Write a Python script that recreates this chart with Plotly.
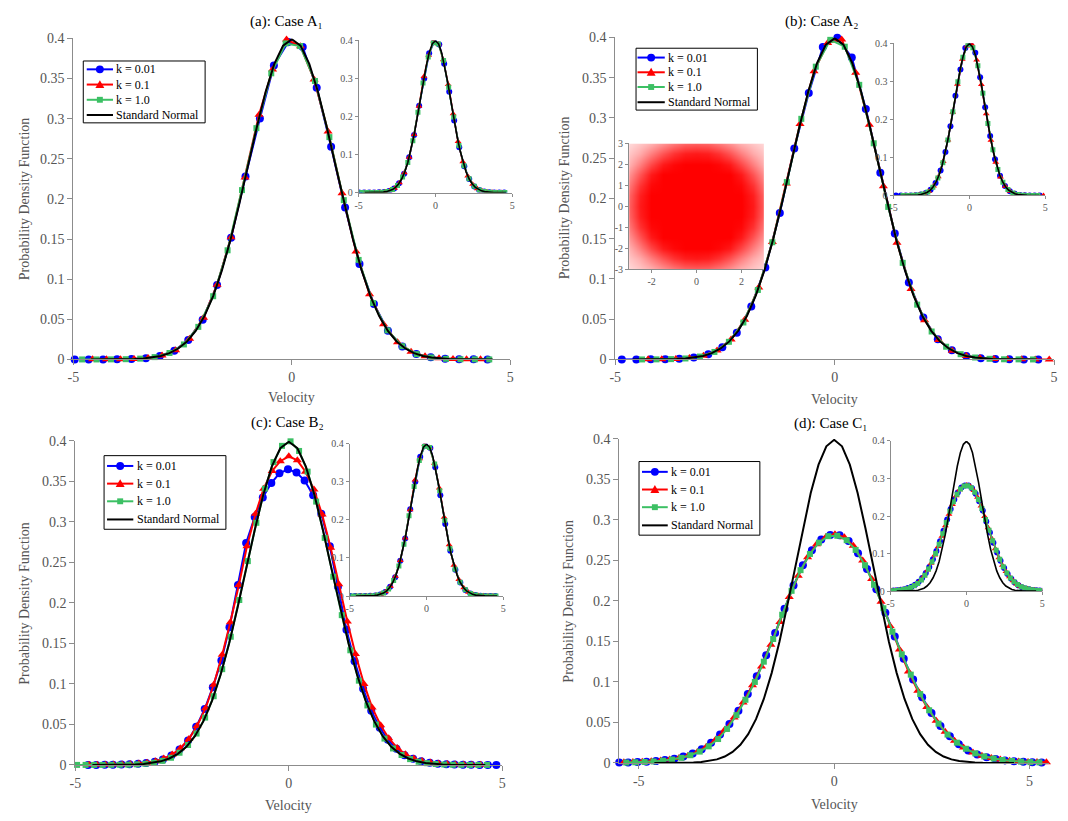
import plotly.graph_objects as go

W, H = 1068, 821

# ---------------- data ----------------
# Panel (a): Case A1
XA_K001 = [-4.97,-4.65,-4.32,-4.00,-3.67,-3.34,-3.02,-2.69,-2.37,-2.04,-1.71,-1.39,-1.06,-0.73,-0.41,-0.08,0.25,0.57,0.90,1.22,1.55,1.88,2.20,2.53,2.85,3.18,3.51,3.83,4.16,4.48]
YA_K001 = [0.0000,0.0000,0.0000,0.0001,0.0005,0.0015,0.0043,0.0108,0.0243,0.0496,0.0928,0.1515,0.2281,0.3001,0.3662,0.3956,0.3892,0.3384,0.2651,0.1892,0.1188,0.0690,0.0358,0.0160,0.0068,0.0026,0.0009,0.0003,0.0001,0.0000]
XA_K01 = [-4.56,-4.24,-3.92,-3.61,-3.29,-2.97,-2.66,-2.34,-2.02,-1.71,-1.39,-1.07,-0.75,-0.44,-0.12,0.20,0.51,0.83,1.15,1.47,1.78,2.10,2.42,2.73,3.05,3.37,3.69,4.00,4.32]
YA_K01 = [0.0002,0.0002,0.0003,0.0007,0.0019,0.0049,0.0115,0.0259,0.0521,0.0931,0.1524,0.2268,0.3048,0.3612,0.3985,0.3902,0.3489,0.2840,0.2071,0.1345,0.0812,0.0438,0.0215,0.0097,0.0040,0.0016,0.0006,0.0003,0.0002]
XA_K1 = [-4.80,-4.47,-4.14,-3.80,-3.47,-3.14,-2.80,-2.47,-2.14,-1.80,-1.47,-1.14,-0.81,-0.47,-0.14,0.19,0.53,0.86,1.19,1.53,1.86,2.19,2.53,2.86,3.19,3.53,3.86,4.19,4.52]
YA_K1 = [0.0000,0.0000,0.0001,0.0003,0.0010,0.0029,0.0080,0.0187,0.0406,0.0788,0.1360,0.2110,0.2882,0.3565,0.3938,0.3905,0.3470,0.2770,0.1985,0.1240,0.0703,0.0362,0.0165,0.0066,0.0025,0.0008,0.0002,0.0001,0.0000]

# Panel (b): Case A2
XB_K001 = [-4.85,-4.52,-4.19,-3.86,-3.54,-3.21,-2.88,-2.56,-2.23,-1.90,-1.58,-1.25,-0.92,-0.59,-0.27,0.06,0.39,0.71,1.04,1.37,1.69,2.02,2.35,2.67,3.00,3.33,3.66,3.98,4.31,4.64]
YB_K001 = [0.0000,0.0000,0.0001,0.0002,0.0008,0.0023,0.0064,0.0152,0.0330,0.0659,0.1142,0.1820,0.2620,0.3310,0.3880,0.3995,0.3750,0.3110,0.2318,0.1565,0.0955,0.0521,0.0250,0.0114,0.0044,0.0016,0.0005,0.0001,0.0000,0.0000]
XB_K01 = [-4.25,-3.94,-3.62,-3.31,-2.99,-2.68,-2.36,-2.05,-1.73,-1.42,-1.10,-0.79,-0.47,-0.16,0.16,0.48,0.79,1.11,1.42,1.74,2.05,2.37,2.68,3.00,3.31,3.63,3.94,4.26,4.57,4.89]
YB_K01 = [0.0001,0.0002,0.0006,0.0017,0.0047,0.0112,0.0248,0.0492,0.0895,0.1459,0.2185,0.2925,0.3580,0.3930,0.3975,0.3560,0.2915,0.2150,0.1450,0.0875,0.0486,0.0240,0.0109,0.0044,0.0017,0.0006,0.0002,0.0001,0.0000,0.0000]
XB_K1 = [-4.39,-4.06,-3.73,-3.40,-3.07,-2.74,-2.41,-2.08,-1.75,-1.42,-1.09,-0.76,-0.43,-0.10,0.23,0.56,0.89,1.22,1.55,1.88,2.21,2.54,2.87,3.20,3.53,3.86,4.19,4.52]
YB_K1 = [0.0000,0.0001,0.0004,0.0012,0.0036,0.0093,0.0219,0.0459,0.0863,0.1456,0.2203,0.2989,0.3637,0.3970,0.3885,0.3411,0.2685,0.1895,0.1200,0.0681,0.0347,0.0158,0.0065,0.0024,0.0008,0.0002,0.0001,0.0000]

# Panel (c): Case B2
XC_K001 = [-4.70,-4.51,-4.31,-4.12,-3.92,-3.73,-3.53,-3.34,-3.14,-2.95,-2.75,-2.56,-2.36,-2.17,-1.97,-1.78,-1.58,-1.39,-1.19,-1.00,-0.80,-0.61,-0.41,-0.22,-0.02,0.18,0.37,0.57,0.76,0.96,1.15,1.35,1.54,1.74,1.93,2.13,2.32,2.52,2.71,2.91,3.10,3.30,3.49,3.69,3.88,4.08,4.27,4.47,4.66,4.86]
YC_K001 = [0.0000,0.0000,0.0001,0.0002,0.0004,0.0007,0.0013,0.0023,0.0040,0.0068,0.0115,0.0190,0.0300,0.0470,0.0690,0.0960,0.1290,0.1700,0.2220,0.2740,0.3060,0.3300,0.3480,0.3600,0.3650,0.3610,0.3510,0.3330,0.3100,0.2700,0.2200,0.1670,0.1280,0.0940,0.0670,0.0460,0.0310,0.0200,0.0120,0.0075,0.0044,0.0025,0.0014,0.0008,0.0004,0.0002,0.0001,0.0000,0.0000,0.0000]
XC_K01 = [-4.68,-4.49,-4.29,-4.10,-3.90,-3.71,-3.51,-3.32,-3.12,-2.93,-2.73,-2.54,-2.34,-2.15,-1.95,-1.76,-1.56,-1.37,-1.17,-0.98,-0.78,-0.59,-0.39,-0.20,0.00,0.20,0.39,0.59,0.78,0.98,1.17,1.37,1.56,1.76,1.95,2.15,2.34,2.54,2.73,2.93,3.12,3.32,3.51,3.71,3.90,4.10,4.29,4.49]
YC_K01 = [0.0002,0.0002,0.0003,0.0004,0.0006,0.0009,0.0016,0.0027,0.0046,0.0078,0.0128,0.0205,0.0320,0.0480,0.0700,0.0990,0.1360,0.1760,0.2220,0.2700,0.3100,0.3410,0.3630,0.3750,0.3810,0.3760,0.3620,0.3400,0.3090,0.2680,0.2230,0.1770,0.1370,0.1000,0.0710,0.0490,0.0330,0.0210,0.0130,0.0080,0.0048,0.0028,0.0017,0.0010,0.0006,0.0004,0.0003,0.0002]
XC_K1 = [-4.96,-4.76,-4.56,-4.36,-4.16,-3.96,-3.76,-3.56,-3.36,-3.16,-2.96,-2.76,-2.56,-2.36,-2.16,-1.96,-1.76,-1.56,-1.36,-1.16,-0.96,-0.76,-0.56,-0.36,-0.16,0.04,0.24,0.44,0.64,0.84,1.04,1.24,1.44,1.64,1.84,2.04,2.24,2.44,2.64,2.84,3.04,3.24,3.44,3.64,3.84,4.04,4.24,4.44,4.64]
YC_K1 = [0.0000,0.0000,0.0000,0.0000,0.0001,0.0002,0.0003,0.0007,0.0014,0.0027,0.0050,0.0088,0.0150,0.0246,0.0387,0.0584,0.0848,0.1182,0.1582,0.2036,0.2516,0.2989,0.3411,0.3739,0.3939,0.3995,0.3876,0.3621,0.3251,0.2803,0.2323,0.1849,0.1415,0.1040,0.0734,0.0498,0.0325,0.0203,0.0122,0.0071,0.0039,0.0021,0.0011,0.0005,0.0002,0.0001,0.0000,0.0000,0.0000]

# Panel (d): Case C1
XD_K001 = [-5.50,-5.27,-5.03,-4.80,-4.56,-4.33,-4.09,-3.86,-3.62,-3.39,-3.15,-2.92,-2.68,-2.45,-2.21,-1.98,-1.74,-1.51,-1.27,-1.04,-0.80,-0.57,-0.33,-0.10,0.14,0.37,0.61,0.84,1.08,1.31,1.55,1.78,2.02,2.25,2.49,2.72,2.96,3.19,3.43,3.66,3.90,4.13,4.37,4.60,4.84,5.07,5.31]
YD_K001 = [0.0004,0.0006,0.0010,0.0015,0.0023,0.0036,0.0053,0.0080,0.0115,0.0170,0.0250,0.0350,0.0480,0.0645,0.0850,0.1070,0.1330,0.1605,0.1905,0.2190,0.2440,0.2625,0.2760,0.2815,0.2810,0.2740,0.2590,0.2395,0.2145,0.1855,0.1560,0.1285,0.1030,0.0810,0.0615,0.0455,0.0330,0.0230,0.0155,0.0105,0.0070,0.0047,0.0031,0.0021,0.0014,0.0009,0.0005]
XD_K01 = [-5.38,-5.15,-4.91,-4.68,-4.44,-4.21,-3.97,-3.74,-3.50,-3.27,-3.03,-2.80,-2.56,-2.33,-2.09,-1.86,-1.62,-1.39,-1.15,-0.92,-0.68,-0.45,-0.21,0.02,0.26,0.49,0.73,0.96,1.20,1.43,1.67,1.90,2.14,2.37,2.61,2.84,3.08,3.31,3.55,3.78,4.02,4.25,4.49,4.72,4.96,5.19,5.43]
YD_K01 = [0.0008,0.0010,0.0014,0.0020,0.0029,0.0042,0.0062,0.0090,0.0135,0.0200,0.0290,0.0410,0.0560,0.0745,0.0960,0.1190,0.1460,0.1740,0.2050,0.2310,0.2540,0.2700,0.2790,0.2825,0.2785,0.2680,0.2500,0.2270,0.1990,0.1690,0.1400,0.1130,0.0890,0.0690,0.0520,0.0385,0.0275,0.0190,0.0130,0.0088,0.0060,0.0041,0.0028,0.0019,0.0013,0.0010,0.0008]
XD_K1 = [-5.32,-5.09,-4.85,-4.62,-4.38,-4.15,-3.91,-3.68,-3.44,-3.21,-2.97,-2.74,-2.50,-2.27,-2.03,-1.80,-1.56,-1.33,-1.09,-0.86,-0.62,-0.39,-0.15,0.08,0.32,0.55,0.79,1.02,1.26,1.49,1.73,1.96,2.20,2.43,2.67,2.90,3.14,3.37,3.61,3.84,4.08,4.31,4.55,4.78,5.02,5.25]
YD_K1 = [0.0005,0.0008,0.0012,0.0018,0.0028,0.0042,0.0063,0.0095,0.0140,0.0205,0.0295,0.0420,0.0590,0.0780,0.1000,0.1250,0.1530,0.1830,0.2125,0.2380,0.2580,0.2720,0.2800,0.2805,0.2750,0.2630,0.2440,0.2200,0.1910,0.1620,0.1340,0.1090,0.0850,0.0650,0.0485,0.0350,0.0250,0.0175,0.0118,0.0080,0.0054,0.0036,0.0024,0.0016,0.0010,0.0007]

# Standard normal reference curve (as drawn)
X_NORMAL = [-4.6,-4.4,-4.2,-4.0,-3.8,-3.6,-3.4,-3.2,-3.0,-2.8,-2.6,-2.4,-2.2,-2.0,-1.8,-1.6,-1.4,-1.2,-1.0,-0.8,-0.6,-0.4,-0.2,0.0,0.2,0.4,0.6,0.8,1.0,1.2,1.4,1.6,1.8,2.0,2.2,2.4,2.6,2.8,3.0,3.2,3.4,3.6,3.8,4.0,4.2,4.4,4.6]
Y_NORMAL = [0.0000,0.0000,0.0001,0.0001,0.0003,0.0006,0.0012,0.0024,0.0044,0.0079,0.0136,0.0224,0.0355,0.0540,0.0790,0.1109,0.1497,0.1942,0.2420,0.2897,0.3332,0.3683,0.3910,0.3989,0.3910,0.3683,0.3332,0.2897,0.2420,0.1942,0.1497,0.1109,0.0790,0.0540,0.0355,0.0224,0.0136,0.0079,0.0044,0.0024,0.0012,0.0006,0.0003,0.0001,0.0001,0.0000,0.0000]

# Scatter-cloud inset of panel (b): point coverage read on a grid
SC_GRID = [-3, -2.5, -2, -1.5, -1, -0.5, 0, 0.5, 1, 1.5, 2, 2.5, 3]
SC_COVER = [
    [0.15,0.22,0.30,0.42,0.52,0.60,0.62,0.60,0.52,0.42,0.30,0.22,0.15],
    [0.22,0.33,0.50,0.67,0.80,0.88,0.90,0.88,0.80,0.67,0.50,0.33,0.22],
    [0.30,0.50,0.72,0.90,0.97,1.00,1.00,1.00,0.97,0.90,0.72,0.50,0.30],
    [0.42,0.67,0.90,1.00,1.00,1.00,1.00,1.00,1.00,1.00,0.90,0.67,0.42],
    [0.52,0.80,0.97,1.00,1.00,1.00,1.00,1.00,1.00,1.00,0.97,0.80,0.52],
    [0.60,0.88,1.00,1.00,1.00,1.00,1.00,1.00,1.00,1.00,1.00,0.88,0.60],
    [0.62,0.90,1.00,1.00,1.00,1.00,1.00,1.00,1.00,1.00,1.00,0.90,0.62],
    [0.60,0.88,1.00,1.00,1.00,1.00,1.00,1.00,1.00,1.00,1.00,0.88,0.60],
    [0.52,0.80,0.97,1.00,1.00,1.00,1.00,1.00,1.00,1.00,0.97,0.80,0.52],
    [0.42,0.67,0.90,1.00,1.00,1.00,1.00,1.00,1.00,1.00,0.90,0.67,0.42],
    [0.30,0.50,0.72,0.90,0.97,1.00,1.00,1.00,0.97,0.90,0.72,0.50,0.30],
    [0.22,0.33,0.50,0.67,0.80,0.88,0.90,0.88,0.80,0.67,0.50,0.33,0.22],
    [0.15,0.22,0.30,0.42,0.52,0.60,0.62,0.60,0.52,0.42,0.30,0.22,0.15],
]

SERIES_NAMES = ["k = 0.01", "k = 0.1", "k = 1.0", "Standard Normal"]
PDF_TICKS = [0, 0.05, 0.1, 0.15, 0.2, 0.25, 0.3, 0.35, 0.4]
PDF_TICKTEXT = ["0", "0.05", "0.1", "0.15", "0.2", "0.25", "0.3", "0.35", "0.4"]
INSET_TICKS = [0, 0.1, 0.2, 0.3, 0.4]
INSET_TICKTEXT = ["0", "0.1", "0.2", "0.3", "0.4"]
VEL_TICKS = [-5, 0, 5]
VEL_TICKTEXT = ["-5", "0", "5"]
TITLES = ["(a): Case A\u2081", "(b): Case A\u2082", "(c): Case B\u2082", "(d): Case C\u2081"]

# ---------------- style ----------------
BLUE, RED, GREEN, BLACK = "#0000ff", "#ff0000", "#3cc064", "#000000"
COLORS = [BLUE, RED, GREEN, BLACK]
AXC, TXT = "#8c8c8c", "#555555"
FONT = "Liberation Serif"

def dx(a, b):
    return [a / W, b / W]

def dy(top, bottom):
    return [1 - bottom / H, 1 - top / H]

def px(x):
    return x / W

def py(y):
    return 1 - y / H

fig = go.Figure()
layout = {}

def axis_id(n):
    return ("x", "y") if n == 1 else (f"x{n}", f"y{n}")

def set_axes(n, xpx, ypx, xr, yr, xt, xtt, yt, ytt, fs, tl):
    xa, ya = axis_id(n)
    common = dict(showline=True, linecolor=AXC, linewidth=1, ticks="outside", ticklen=tl,
                  tickcolor=AXC, showgrid=False, zeroline=False, mirror=False,
                  tickfont=dict(family=FONT, size=fs, color=TXT), fixedrange=True)
    layout["xaxis" if n == 1 else f"xaxis{n}"] = dict(domain=dx(*xpx), range=xr, anchor=ya,
                                                       tickvals=xt, ticktext=xtt, **common)
    layout["yaxis" if n == 1 else f"yaxis{n}"] = dict(domain=dy(*ypx), range=yr, anchor=xa,
                                                       tickvals=yt, ticktext=ytt, **common)

MAIN = [
    dict(xpx=(68, 509), ypx=(32, 359), xr=[-5, 5]),
    dict(xpx=(615, 1058), ypx=(31, 359), xr=[-5, 5]),
    dict(xpx=(70, 501), ypx=(442, 772), xr=[-5, 5]),
    dict(xpx=(619, 1053), ypx=(440, 770), xr=[-5.5, 5.5]),
]
INSET = [
    dict(xpx=(356, 511), ypx=(34, 189)),
    dict(xpx=(896, 1049), ypx=(37, 192)),
    dict(xpx=(347, 502), ypx=(445, 600)),
    dict(xpx=(893, 1046), ypx=(442, 595)),
]
DATA = [
    (XA_K001, YA_K001, XA_K01, YA_K01, XA_K1, YA_K1),
    (XB_K001, YB_K001, XB_K01, YB_K01, XB_K1, YB_K1),
    (XC_K001, YC_K001, XC_K01, YC_K01, XC_K1, YC_K1),
    (XD_K001, YD_K001, XD_K01, YD_K01, XD_K1, YD_K1),
]
INSET_DATA = [DATA[0], DATA[1], DATA[0], DATA[3]]

def add_curves(n, d, big):
    xa, ya = axis_id(n)
    sizes = (8, 8, 6) if big else (6, 6, 5)
    lw = 2 if big else 1.6
    specs = [(d[0], d[1], BLUE, "circle", sizes[0]),
             (d[2], d[3], RED, "triangle-up", sizes[1]),
             (d[4], d[5], GREEN, "square", sizes[2])]
    for i, (xs, ys, c, sym, sz) in enumerate(specs):
        fig.add_trace(go.Scatter(x=xs, y=ys, mode="lines+markers", name=SERIES_NAMES[i],
                                 line=dict(color=c, width=lw),
                                 marker=dict(symbol=sym, size=sz, color=c),
                                 xaxis=xa, yaxis=ya, showlegend=False,
                                 cliponaxis=not big, hoverinfo="skip"))
    fig.add_trace(go.Scatter(x=X_NORMAL, y=Y_NORMAL, mode="lines", name=SERIES_NAMES[3],
                             line=dict(color=BLACK, width=lw), xaxis=xa, yaxis=ya,
                             showlegend=False, hoverinfo="skip"))

for i, m in enumerate(MAIN):
    n = i + 1
    set_axes(n, m["xpx"], m["ypx"], m["xr"], [0, 0.4], VEL_TICKS, VEL_TICKTEXT,
             PDF_TICKS, PDF_TICKTEXT, 14, 5)
    add_curves(n, DATA[i], True)

for i, m in enumerate(INSET):
    n = i + 5
    set_axes(n, m["xpx"], m["ypx"], [-5, 5], [0, 0.4], VEL_TICKS, VEL_TICKTEXT,
             INSET_TICKS, INSET_TICKTEXT, 10, 3)
    add_curves(n, INSET_DATA[i], False)

# scatter-cloud inset (panel b)
set_axes(9, (629, 765), (139, 267), [-3, 3], [-3, 3], [-2, 0, 2], ["-2", "0", "2"],
         [-3, -2, -1, 0, 1, 2, 3], ["-3", "-2", "-1", "0", "1", "2", "3"], 10, 3)
fig.add_trace(go.Heatmap(x=SC_GRID, y=SC_GRID, z=SC_COVER, zmin=0, zmax=1, zsmooth="best",
                         colorscale=[[0, "#ffffff"], [1, "#ff0000"]], showscale=False,
                         xaxis="x9", yaxis="y9", hoverinfo="skip"))

# ---------------- MATLAB-style legend boxes (drawn as shapes + text) ----------------
# box (left, top, right, bottom), row centres, sample-line start/end, text start  (pixels)
LEGEND_BOXES = [
    dict(box=(78, 55, 201, 118), rows=(63.5, 79.0, 94.5, 110.0), line=(81.5, 108), tx=109.5),
    dict(box=(636, 42, 758.5, 105), rows=(51.5, 66.5, 81.5, 97.0), line=(637.5, 665), tx=666.5),
    dict(box=(99, 457, 222, 532), rows=(467.5, 485.5, 503.5, 522.0), line=(102, 128.5), tx=130),
    dict(box=(639, 463, 761, 538), rows=(473.5, 491.5, 509.5, 528.0), line=(642, 668), tx=669.5),
]
shapes = []
annotations = []
for lg in LEGEND_BOXES:
    x0, y0, x1, y1 = lg["box"]
    shapes.append(dict(type="rect", xref="paper", yref="paper", x0=px(x0), x1=px(x1),
                       y0=py(y1), y1=py(y0), line=dict(color="black", width=1),
                       fillcolor="white", layer="above"))
    lx0, lx1 = lg["line"]
    cx = (lx0 + lx1) / 2
    for i, ry in enumerate(lg["rows"]):
        col = COLORS[i]
        shapes.append(dict(type="line", xref="paper", yref="paper", x0=px(lx0), x1=px(lx1),
                           y0=py(ry), y1=py(ry), line=dict(color=col, width=2), layer="above"))
        if i == 0:
            shapes.append(dict(type="circle", xref="paper", yref="paper",
                               x0=px(cx - 4), x1=px(cx + 4), y0=py(ry + 4), y1=py(ry - 4),
                               fillcolor=col, line=dict(color=col, width=0), layer="above"))
        elif i == 1:
            path = (f"M {px(cx - 4.5)},{py(ry + 3.5)} L {px(cx + 4.5)},{py(ry + 3.5)} "
                    f"L {px(cx)},{py(ry - 4.5)} Z")
            shapes.append(dict(type="path", xref="paper", yref="paper", path=path,
                               fillcolor=col, line=dict(color=col, width=0), layer="above"))
        elif i == 2:
            shapes.append(dict(type="rect", xref="paper", yref="paper",
                               x0=px(cx - 3), x1=px(cx + 3), y0=py(ry + 3), y1=py(ry - 3),
                               fillcolor=col, line=dict(color=col, width=0), layer="above"))
        annotations.append(dict(text=SERIES_NAMES[i], x=px(lg["tx"]), y=py(ry), xref="paper",
                                yref="paper", showarrow=False, xanchor="left", yanchor="middle",
                                font=dict(family=FONT, size=12, color="black")))

TITLE_POS = [(283, 15), (824, 15), (284, 423), (833, 424)]
VEL_POS = [(288, 398), (836, 400), (285, 813), (836, 812)]
YT_POS = [(19, 195), (564, 194), (19, 607), (568, 605)]
for i in range(4):
    tx, ty = TITLE_POS[i]
    annotations.append(dict(text=TITLES[i], x=px(tx), y=py(ty), xref="paper", yref="paper",
                            showarrow=False, xanchor="center", yanchor="middle",
                            font=dict(family=FONT, size=15, color="black")))
    vx, vy = VEL_POS[i]
    annotations.append(dict(text="Velocity", x=px(vx), y=py(vy), xref="paper", yref="paper",
                            showarrow=False, xanchor="center", yanchor="middle",
                            font=dict(family=FONT, size=14, color=TXT)))
    qx, qy = YT_POS[i]
    annotations.append(dict(text="Probability Density Function", x=px(qx), y=py(qy),
                            xref="paper", yref="paper", showarrow=False, textangle=-90,
                            xanchor="center", yanchor="middle",
                            font=dict(family=FONT, size=14, color=TXT)))

layout.update(width=W, height=H, margin=dict(l=0, r=0, t=0, b=0), showlegend=False,
              paper_bgcolor="white", plot_bgcolor="white", annotations=annotations,
              shapes=shapes, font=dict(family=FONT))
fig.update_layout(**layout)
fig.write_html("out.html", config={"displayModeBar": False})
